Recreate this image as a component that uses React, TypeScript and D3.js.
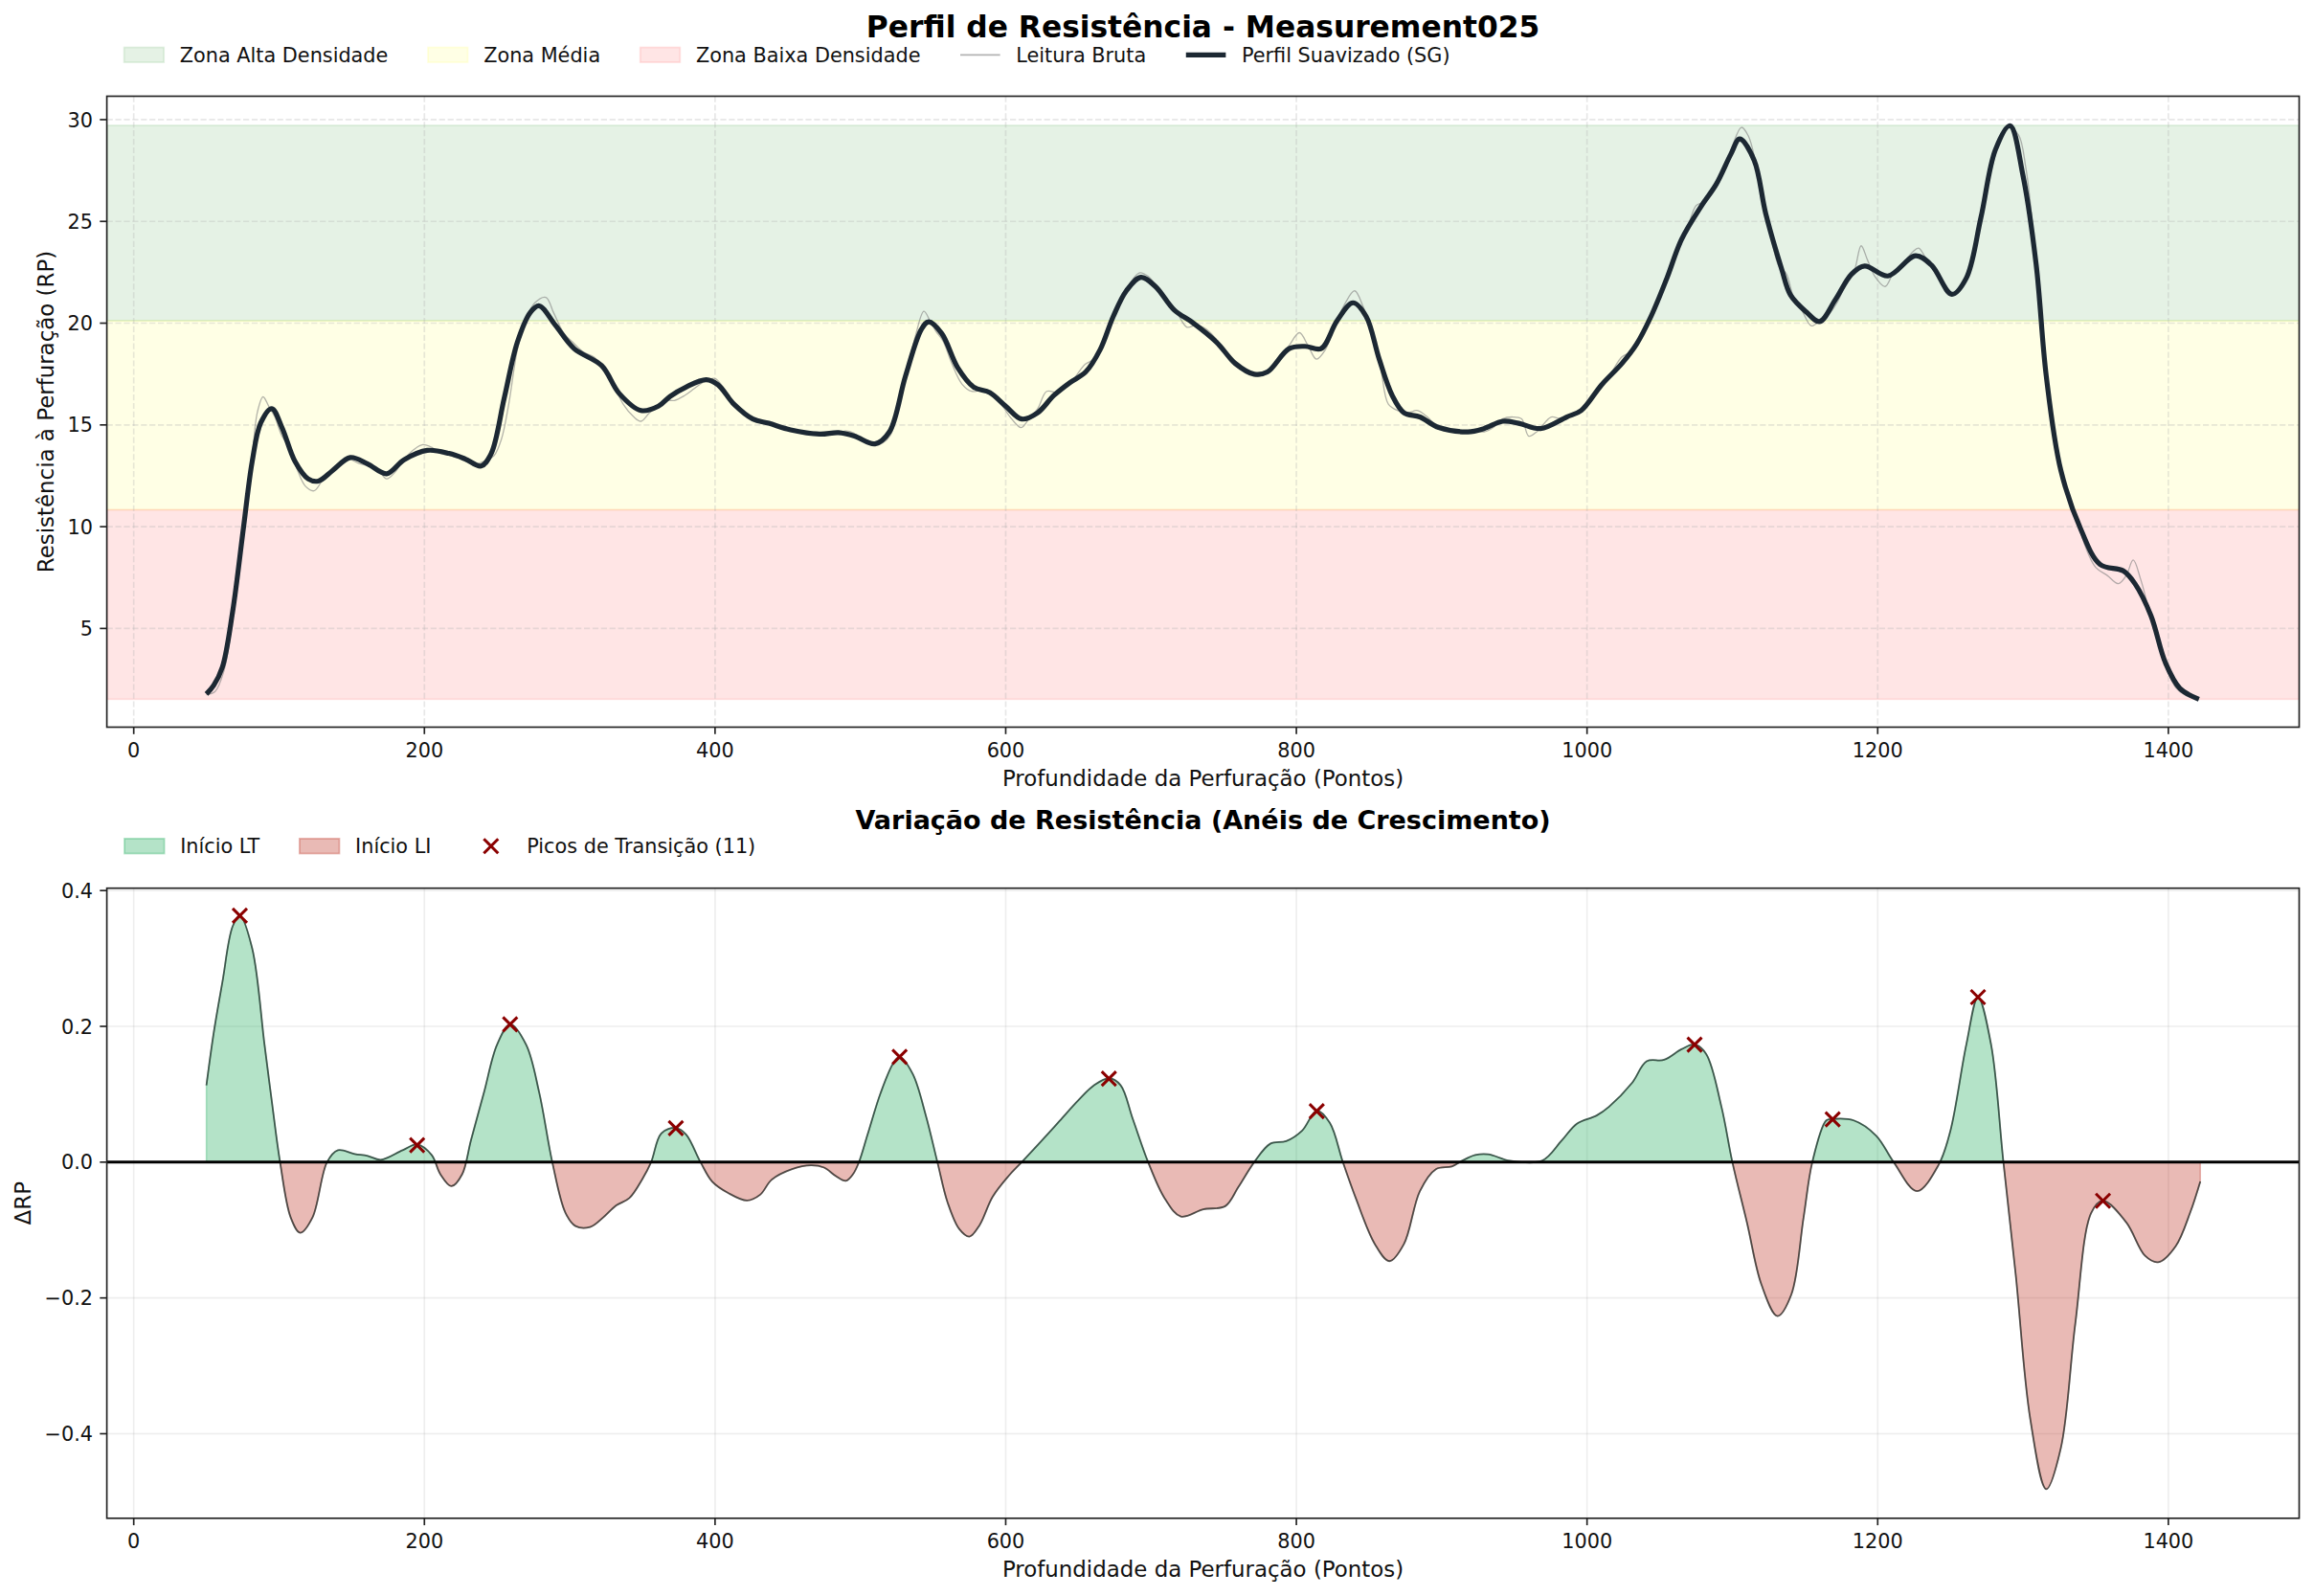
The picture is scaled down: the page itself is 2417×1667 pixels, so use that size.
import React from 'react';
import * as d3 from 'd3';

// ---------- DATA ----------
const smoothX = [50,55,61,68,75.6,81.5,87.4,95,102,111,120,127,137,149,161,174,186,202,217,228,239,246,255,264,273,279,290,303,322,334,349,361,369,380,394,402,413,426,437,452,472,485,496,510,520,531,542,547,556,567,578,589,600,611,622,633,644,655,665,674,683,693,703,716,729,745,758,771,780,795,806,817,828,839,848,857,866,874,885,898,918,929,942,953,968,986,996,1010,1024,1034,1044,1055,1065,1079,1089,1099,1105,1115,1123,1134,1140,1151,1160,1171,1182,1191,1207,1226,1237,1251,1261,1271,1281,1291,1300,1309,1316,1326,1340,1353,1369,1377,1388,1398,1408,1421];
const smoothY = [1.78,2.2,3.1,5.8,10.0,13.2,15.1,15.8,14.87,13.2,12.35,12.24,12.77,13.4,13.08,12.6,13.29,13.75,13.6,13.33,12.98,13.6,16.34,19.07,20.54,20.85,19.91,18.75,17.91,16.55,15.71,15.92,16.4,16.86,17.22,16.97,16.02,15.29,15.08,14.76,14.55,14.62,14.45,14.07,14.66,17.39,19.7,20.07,19.49,17.81,16.86,16.59,15.92,15.29,15.6,16.44,17.07,17.6,18.7,20.33,21.59,22.25,21.8,20.64,20.01,19.07,18.02,17.49,17.6,18.75,18.86,18.75,20.12,21.0,20.33,18.23,16.44,15.6,15.39,14.87,14.66,14.82,15.18,15.08,14.82,15.39,15.71,16.97,18.02,18.96,20.33,22.22,24.11,25.79,26.84,28.31,29.05,28.0,25.37,22.64,21.38,20.54,20.08,21.17,22.41,22.81,22.32,23.31,22.85,21.42,22.22,25.18,28.52,29.7,27.24,22.9,17.39,12.77,9.83,8.15,7.83,7.2,5.63,3.31,2.05,1.52];

const rawX = [50,56,62,68,75,81,85,89,93,97,102,107,112,118,124,130,137,143,149,155,161,168,174,180,186,193,199,205,211,217,223,229,236,243,248,253,258,264,270,276,283.6,289,296,302,309,316.8,324,330,337,344,349,355,361,367,372,378.9,386,392,399.9,406,413,420,428,437,446,455,463,470,478,485,490,495.4,502,510,515,520.6,526,532,538,543.7,548,552,557,563,570,576.6,584,590,597,604,610.7,616,622,628.2,636,644,654.6,660,666,672,678,685,691.9,698,705,712,718,724.8,731,738,746,755.6,763,770,774.3,781,788,795,802.1,808,813.8,820,826,833,840.1,846,852,858,863.3,870,877,883,890,898,906,914,922,929.2,936,942,948.9,955,959.9,966,975.3,982,990,996,1003,1010,1017,1023.8,1030,1037,1044,1050,1056,1063,1070,1075.2,1082,1089,1095,1100,1106.2,1111,1116,1121,1127,1132,1137.1,1142,1148,1154.3,1160,1166,1172,1178,1184,1188.6,1193,1198,1205.1,1211,1218,1224,1228.1,1233,1240,1245,1248.7,1255,1262,1270,1277,1284,1290,1296.8,1302,1307,1312,1317,1323,1330,1337,1343,1350,1358,1365.5,1371,1375.8,1381,1387,1393,1399,1405,1412,1421];
const rawY = [1.75,1.9,2.9,5.4,9.6,13.0,15.6,16.38,15.9,15.4,14.45,13.9,12.9,12.0,11.76,12.3,12.9,13.2,13.3,13.1,13.0,12.8,12.35,12.7,13.3,13.8,14.03,13.9,13.6,13.5,13.4,13.2,13.1,13.29,13.5,14.3,16.0,18.7,20.2,21.0,21.27,20.5,19.5,19.07,18.6,18.33,17.8,17.0,16.0,15.4,15.18,15.6,15.9,16.2,16.2,16.44,16.8,17.1,17.28,16.8,15.9,15.6,15.3,15.1,14.9,14.7,14.65,14.66,14.5,14.6,14.7,14.6,14.2,14.0,14.1,14.49,15.8,17.6,19.4,20.58,20.1,19.6,19.1,18.0,17.0,16.65,16.7,16.5,16.0,15.3,14.87,15.3,15.8,16.65,16.6,17.0,17.98,18.2,18.8,20.0,21.0,21.9,22.47,22.3,21.7,21.1,20.5,19.8,19.9,19.7,19.1,18.02,17.7,17.5,17.39,17.7,18.2,18.9,19.53,18.9,18.23,18.7,19.8,20.9,21.59,20.8,19.6,17.8,16.02,15.7,15.6,15.71,15.4,14.85,14.7,14.6,14.7,14.66,14.9,15.3,15.39,15.3,14.45,14.7,15.39,15.3,15.5,15.8,16.3,16.9,17.6,18.33,18.6,19.3,20.3,21.4,22.6,23.9,24.9,25.79,26.0,26.7,27.6,28.7,29.62,29.2,27.9,26.0,24.1,22.8,22.43,21.3,20.6,19.87,20.1,20.4,21.0,21.9,22.6,23.8,23.1,22.3,21.8,22.5,23.0,23.5,23.69,23.2,22.4,21.8,21.38,21.5,22.5,24.6,27.2,28.9,29.6,29.26,27.6,24.5,20.5,17.0,14.0,11.8,10.4,9.0,8.0,7.6,7.2,7.6,8.36,7.4,5.8,4.3,3.0,2.1,1.7,1.5];

const deltaX = [50,55,61,68,73,81.5,90,95,100.7,108,114.5,123,133,140.5,152,161,170,185,195,205,211,218.6,226,232,241,250,259,270,279,288,297,304,314,323,332,341,350,356,363,373,380,390,398,409,422,431,439,453,466,475,483,490,495,499,505,514,523,527,536,545,553,560,568,575,582,591,602,611,624,637,650,661,671,679,687.5,698,709.5,720.5,736,751,760,771,782,793,804,814,823,832,841,854,864,874,885,896,907,914,923,932,947,969,982.6,993,1006.6,1015,1031,1041,1053,1065,1074,1082,1092.5,1100,1110,1120,1131,1140.6,1149,1155,1164.6,1169,1183.5,1199,1211,1227,1242,1250,1261,1269,1278,1286.5,1295,1305,1316,1326,1336,1347,1355,1371,1384,1393,1405,1415,1422];
const deltaY = [0.113,0.19,0.265,0.347,0.363,0.315,0.173,0.09,0.0,-0.0815,-0.104,-0.0815,0.0,0.0176,0.012,0.0092,0.0035,0.0176,0.026,0.0106,-0.0178,-0.0354,-0.0178,0.0319,0.1026,0.173,0.203,0.173,0.1026,0.0,-0.0743,-0.0942,-0.0956,-0.0815,-0.0637,-0.053,-0.0248,0.0,0.0424,0.0505,0.041,0.0,-0.0286,-0.0454,-0.0565,-0.048,-0.0258,-0.0103,-0.0047,-0.008,-0.0203,-0.0275,-0.0175,0.0,0.041,0.1024,0.147,0.155,0.13,0.069,0.0,-0.0594,-0.0984,-0.1096,-0.0928,-0.051,-0.0203,0.0,0.0299,0.0605,0.0912,0.1135,0.1235,0.1135,0.0633,0.0,-0.0537,-0.08,-0.0694,-0.0649,-0.037,0.0,0.0271,0.031,0.0466,0.0756,0.0578,0.0,-0.0537,-0.1207,-0.1458,-0.1207,-0.0426,-0.0103,-0.0063,0.002,0.0104,0.0115,0.002,0.002,0.0319,0.0566,0.0687,0.0814,0.1168,0.1486,0.1507,0.1663,0.1734,0.1592,0.0814,0.0,-0.0886,-0.1804,-0.2266,-0.1948,-0.0815,0.0,0.0615,0.0636,0.0615,0.0389,0.0,-0.0426,-0.0036,0.046,0.1734,0.243,0.1734,0.0,-0.1664,-0.3787,-0.4815,-0.4213,-0.2372,-0.0743,-0.0567,-0.0886,-0.138,-0.1474,-0.1239,-0.0743,-0.0283];

const peakX = [73,195,259,373,527,671,814,1074,1169,1269,1355];
const peakY = [0.363,0.025,0.203,0.05,0.155,0.123,0.075,0.173,0.063,0.243,-0.057];

const zoneBounds = [1.52, 10.83, 20.12, 29.72];
const zoneLabels = ['Zona Alta Densidade', 'Zona Média', 'Zona Baixa Densidade'];
const xTicks = [0, 200, 400, 600, 800, 1000, 1200, 1400];
const yTicksTop = [5, 10, 15, 20, 25, 30];
const yTicksBottom = [-0.4, -0.2, 0.0, 0.2, 0.4];

const TITLE_TOP = 'Perfil de Resistência - Measurement025';
const TITLE_BOTTOM = 'Variação de Resistência (Anéis de Crescimento)';
const XLABEL = 'Profundidade da Perfuração (Pontos)';
const YLABEL_TOP = 'Resistência à Perfuração (RP)';
const YLABEL_BOTTOM = 'ΔRP';

// ---------- LAYOUT ----------
const W = 2417, H = 1667;
const FONT = '"DejaVu Sans", sans-serif';
const FS = 20.8;
const FS_LABEL = 22.9;
const L = 111.6, R = 2401.5;
const T1 = 100.5, B1 = 759.5;
const T2 = 927.7, B2 = 1585.8;
const SPINE = '#222';

let _ctx: CanvasRenderingContext2D | null = null;
function measure(t: string, size = FS) {
  if (!_ctx) _ctx = document.createElement('canvas').getContext('2d');
  if (!_ctx) return t.length * size * 0.55;
  _ctx.font = `${size}px "DejaVu Sans"`;
  return _ctx.measureText(t).width;
}

type LegendItem = { label: string; kind: 'patch' | 'line' | 'marker'; fill?: string; fillOpacity?: number; stroke?: string; strokeOpacity?: number; strokeWidth?: number };

function xMark(cx: number, cy: number, r: number) {
  return `M${cx - r},${cy - r}L${cx + r},${cy + r}M${cx - r},${cy + r}L${cx + r},${cy - r}`;
}

function Legend({ x0, cy, items }: { x0: number; cy: number; items: LegendItem[] }) {
  const handle = 41.6, pad = 16.6, colsp = 41.6;
  let cx = x0;
  const out: any[] = [];
  items.forEach((it, i) => {
    const hx = cx;
    if (it.kind === 'patch') {
      out.push(<rect key={'h' + i} x={hx} y={cy - 7.8} width={handle} height={15.6} fill={it.fill} fillOpacity={it.fillOpacity} stroke={it.stroke} strokeOpacity={it.strokeOpacity} strokeWidth={1.8} />);
    } else if (it.kind === 'line') {
      out.push(<line key={'h' + i} x1={hx} x2={hx + handle} y1={cy} y2={cy} stroke={it.stroke} strokeOpacity={it.strokeOpacity} strokeWidth={it.strokeWidth} />);
    } else {
      out.push(<path key={'h' + i} d={xMark(hx + handle / 2, cy, 7.5)} stroke="#8b0000" strokeWidth={3} fill="none" />);
    }
    const tx = hx + handle + pad;
    out.push(<text key={'t' + i} x={tx} y={cy + 7.7} fontSize={FS} fontFamily={FONT} fill="#111">{it.label}</text>);
    cx = tx + measure(it.label) + colsp;
  });
  return <g>{out}</g>;
}

export default function App() {
  const x = d3.scaleLinear().domain([-18.5, 1490]).range([L, R]);
  const y1 = d3.scaleLinear().domain([0.15, 31.15]).range([B1, T1]);
  const y2 = d3.scaleLinear().domain([-0.5245, 0.4035]).range([B2, T2]);

  const curve = d3.curveCatmullRom.alpha(0.5);
  const smoothPts = smoothX.map((v, i) => [v, smoothY[i]] as [number, number]);
  const rawPts = rawX.map((v, i) => [v, rawY[i]] as [number, number]);
  const deltaPts = deltaX.map((v, i) => [v, deltaY[i]] as [number, number]);

  const lineTop = d3.line<[number, number]>().x(d => x(d[0])).y(d => y1(d[1])).curve(curve);
  const lineBot = d3.line<[number, number]>().x(d => x(d[0])).y(d => y2(d[1])).curve(curve);
  const areaBot = d3.area<[number, number]>().x(d => x(d[0])).y0(y2(0)).y1(d => y2(d[1])).curve(curve);

  const bands = [
    { lo: zoneBounds[2], hi: zoneBounds[3], color: 'green' },
    { lo: zoneBounds[1], hi: zoneBounds[2], color: 'yellow' },
    { lo: zoneBounds[0], hi: zoneBounds[1], color: 'red' },
  ];

  const greenC = '#27ae60', redC = '#c0392b';

  const xAxis = (yb: number, key: string) => (
    <g key={key}>
      {xTicks.map(t => (
        <g key={t}>
          <line x1={x(t)} x2={x(t)} y1={yb} y2={yb + 7.3} stroke={SPINE} strokeWidth={1.67} />
          <text x={x(t)} y={yb + 31} textAnchor="middle" fontSize={FS} fontFamily={FONT} fill="#111">{t}</text>
        </g>
      ))}
      <text x={(L + R) / 2} y={yb + 61.5} textAnchor="middle" fontSize={FS_LABEL} fontFamily={FONT} fill="#111">{XLABEL}</text>
    </g>
  );

  return (
    <svg width={W} height={H} viewBox={`0 0 ${W} ${H}`} style={{ position: 'absolute', left: 0, top: 0, background: '#fff' }} xmlns="http://www.w3.org/2000/svg">
      <rect x={0} y={0} width={W} height={H} fill="#fff" />
      <defs>
        <clipPath id="clipTop"><rect x={L} y={T1} width={R - L} height={B1 - T1} /></clipPath>
        <clipPath id="clipBot"><rect x={L} y={T2} width={R - L} height={B2 - T2} /></clipPath>
        <clipPath id="clipPos"><rect x={L} y={T2} width={R - L} height={y2(0) - T2} /></clipPath>
        <clipPath id="clipNeg"><rect x={L} y={y2(0)} width={R - L} height={B2 - y2(0)} /></clipPath>
      </defs>

      {/* ---------- TOP PANEL ---------- */}
      <text x={(L + R) / 2} y={38.5} textAnchor="middle" fontSize={31.3} fontWeight="bold" fontFamily={FONT} fill="#000">{TITLE_TOP}</text>
      <Legend x0={129.6} cy={57.3} items={[
        { label: zoneLabels[0], kind: 'patch', fill: 'green', fillOpacity: 0.1, stroke: 'green', strokeOpacity: 0.1 },
        { label: zoneLabels[1], kind: 'patch', fill: 'yellow', fillOpacity: 0.1, stroke: 'yellow', strokeOpacity: 0.1 },
        { label: zoneLabels[2], kind: 'patch', fill: 'red', fillOpacity: 0.1, stroke: 'red', strokeOpacity: 0.1 },
        { label: 'Leitura Bruta', kind: 'line', stroke: '#808080', strokeOpacity: 0.6, strokeWidth: 1.7 },
        { label: 'Perfil Suavizado (SG)', kind: 'line', stroke: '#1c2833', strokeOpacity: 1, strokeWidth: 5.2 },
      ]} />

      <g clipPath="url(#clipTop)">
        {bands.map((b, i) => (
          <rect key={i} x={L} y={y1(b.hi)} width={R - L} height={y1(b.lo) - y1(b.hi)} fill={b.color} fillOpacity={0.1} stroke={b.color} strokeOpacity={0.1} strokeWidth={1.67} />
        ))}
        {xTicks.map(t => <line key={'gx' + t} x1={x(t)} x2={x(t)} y1={T1} y2={B1} stroke="#b0b0b0" strokeOpacity={0.3} strokeWidth={1.67} strokeDasharray="6.2,2.7" />)}
        {yTicksTop.map(t => <line key={'gy' + t} x1={L} x2={R} y1={y1(t)} y2={y1(t)} stroke="#b0b0b0" strokeOpacity={0.3} strokeWidth={1.67} strokeDasharray="6.2,2.7" />)}
        <path d={lineTop(rawPts) || ''} fill="none" stroke="#808080" strokeOpacity={0.6} strokeWidth={1.3} />
        <path d={lineTop(smoothPts) || ''} fill="none" stroke="#1c2833" strokeWidth={5.2} strokeLinejoin="round" />
      </g>
      <rect x={L} y={T1} width={R - L} height={B1 - T1} fill="none" stroke={SPINE} strokeWidth={1.67} />
      {yTicksTop.map(t => (
        <g key={'yt' + t}>
          <line x1={L - 7.3} x2={L} y1={y1(t)} y2={y1(t)} stroke={SPINE} strokeWidth={1.67} />
          <text x={L - 14.6} y={y1(t) + 7.6} textAnchor="end" fontSize={FS} fontFamily={FONT} fill="#111">{t}</text>
        </g>
      ))}
      <text transform={`translate(56,${(T1 + B1) / 2}) rotate(-90)`} textAnchor="middle" fontSize={FS_LABEL} fontFamily={FONT} fill="#111">{YLABEL_TOP}</text>
      {xAxis(B1, 'xa1')}

      {/* ---------- BOTTOM PANEL ---------- */}
      <text x={(L + R) / 2} y={866} textAnchor="middle" fontSize={27} fontWeight="bold" fontFamily={FONT} fill="#000">{TITLE_BOTTOM}</text>
      <Legend x0={130} cy={883.7} items={[
        { label: 'Início LT', kind: 'patch', fill: greenC, fillOpacity: 0.35, stroke: greenC, strokeOpacity: 0.35 },
        { label: 'Início LI', kind: 'patch', fill: redC, fillOpacity: 0.35, stroke: redC, strokeOpacity: 0.35 },
        { label: `Picos de Transição (${peakX.length})`, kind: 'marker' },
      ]} />

      <g clipPath="url(#clipBot)">
        {xTicks.map(t => <line key={'bgx' + t} x1={x(t)} x2={x(t)} y1={T2} y2={B2} stroke="#b0b0b0" strokeOpacity={0.22} strokeWidth={1.67} />)}
        {yTicksBottom.map(t => <line key={'bgy' + t} x1={L} x2={R} y1={y2(t)} y2={y2(t)} stroke="#b0b0b0" strokeOpacity={0.22} strokeWidth={1.67} />)}
        <g clipPath="url(#clipPos)">
          <path d={areaBot(deltaPts) || ''} fill={greenC} fillOpacity={0.35} stroke={greenC} strokeOpacity={0.35} strokeWidth={1.5} />
        </g>
        <g clipPath="url(#clipNeg)">
          <path d={areaBot(deltaPts) || ''} fill={redC} fillOpacity={0.35} stroke={redC} strokeOpacity={0.35} strokeWidth={1.5} />
        </g>
        <path d={lineBot(deltaPts) || ''} fill="none" stroke="#1e2b28" strokeOpacity={0.75} strokeWidth={1.8} />
        <line x1={L} x2={R} y1={y2(0)} y2={y2(0)} stroke="#000" strokeWidth={3} />
        {peakX.map((px, i) => (
          <path key={'pk' + i} d={xMark(x(px), y2(peakY[i]), 7.5)} stroke="#8b0000" strokeWidth={3} fill="none" />
        ))}
      </g>
      <rect x={L} y={T2} width={R - L} height={B2 - T2} fill="none" stroke={SPINE} strokeWidth={1.67} />
      {yTicksBottom.map(t => (
        <g key={'byt' + t}>
          <line x1={L - 7.3} x2={L} y1={y2(t)} y2={y2(t)} stroke={SPINE} strokeWidth={1.67} />
          <text x={L - 14.6} y={y2(t) + 7.6} textAnchor="end" fontSize={FS} fontFamily={FONT} fill="#111">{d3.format('.1f')(t)}</text>
        </g>
      ))}
      <text transform={`translate(32.3,${(T2 + B2) / 2}) rotate(-90)`} textAnchor="middle" fontSize={FS_LABEL} fontFamily={FONT} fill="#111">{YLABEL_BOTTOM}</text>
      {xAxis(B2, 'xa2')}
    </svg>
  );
}
